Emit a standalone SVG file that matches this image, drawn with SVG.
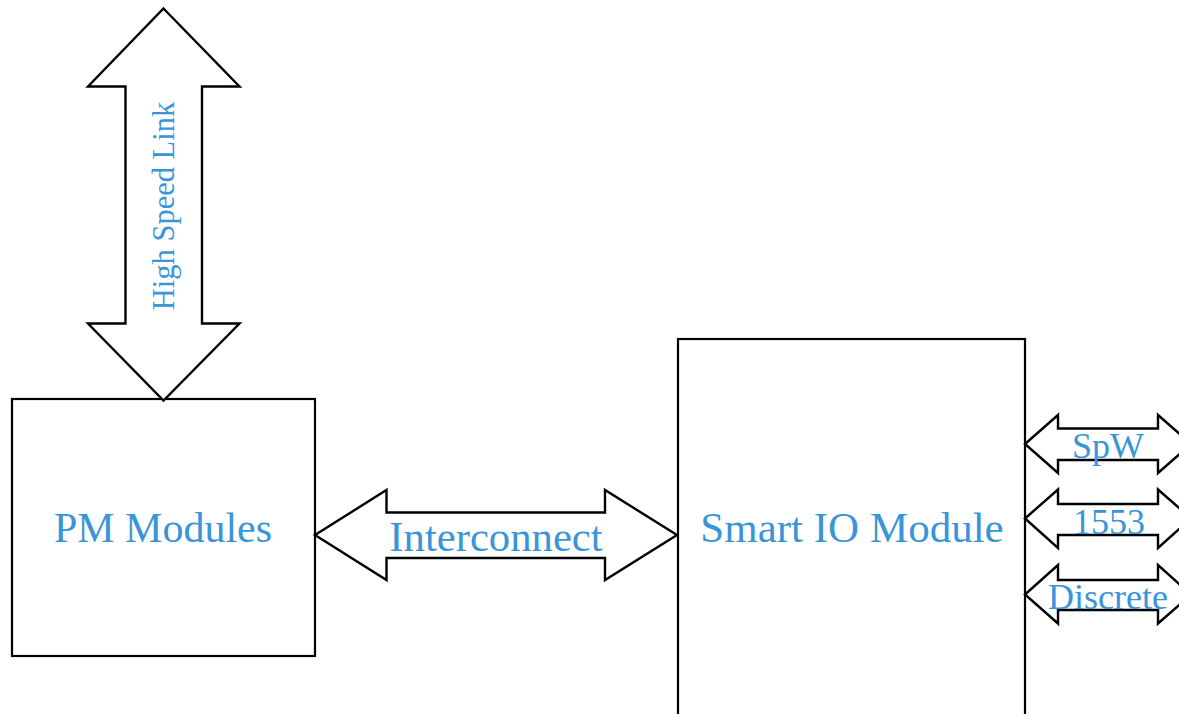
<svg xmlns="http://www.w3.org/2000/svg" width="1179" height="714" viewBox="0 0 1179 714">
<style>
.box{fill:#fff;stroke:#000;stroke-width:2.2}
.arr{fill:#fff;stroke:#000;stroke-width:2.4;stroke-linejoin:miter}
.t{font-family:"Liberation Serif","Times New Roman",serif;fill:#3a95d8;text-anchor:middle}
</style>
<rect width="1179" height="714" fill="#fff"/>
<g id="pm-modules">
<rect class="box" x="12" y="399" width="303" height="257"/>
<text class="t" x="163" y="541.5" font-size="42">PM Modules</text>
</g>
<g id="smart-io-module">
<rect class="box" x="678" y="339" width="347" height="390"/>
<text class="t" x="852" y="542" font-size="43">Smart IO Module</text>
</g>
<g id="connectors">
<g id="high-speed-link">
<polygon class="arr" points="163.5,8.5 239.5,86.5 202,86.5 202,323.5 239.5,323.5 163.5,400.5 88,323.5 125.5,323.5 125.5,86.5 88,86.5"/>
<text class="t" font-size="30.5" transform="translate(174,206) rotate(-90)">High Speed Link</text>
</g>
<g id="interconnect">
<polygon class="arr" points="315,535 386.5,490 386.5,512.5 605,512.5 605,490 677,535 605,580 605,558 386.5,558 386.5,580"/>
<text class="t" x="496" y="550.5" font-size="42.7">Interconnect</text>
</g>
<g id="spw">
<polygon class="arr" points="1025,444 1058,415 1058,428.5 1158,428.5 1158,415 1191,444 1158,473 1158,460 1058,460 1058,473"/>
<text class="t" x="1108" y="457.5" font-size="36">SpW</text>
</g>
<g id="mil-1553">
<polygon class="arr" points="1025,518.5 1058,489.5 1058,504 1158,504 1158,489.5 1191,518.5 1158,548 1158,535 1058,535 1058,548"/>
<text class="t" x="1109" y="533.5" font-size="36">1553</text>
</g>
<g id="discrete">
<polygon class="arr" points="1025,594.5 1058,565 1058,580 1158,580 1158,565 1191,594.5 1158,623.5 1158,610 1058,610 1058,623.5"/>
<text class="t" x="1108" y="608.5" font-size="36">Discrete</text>
</g>
</g>
</svg>
